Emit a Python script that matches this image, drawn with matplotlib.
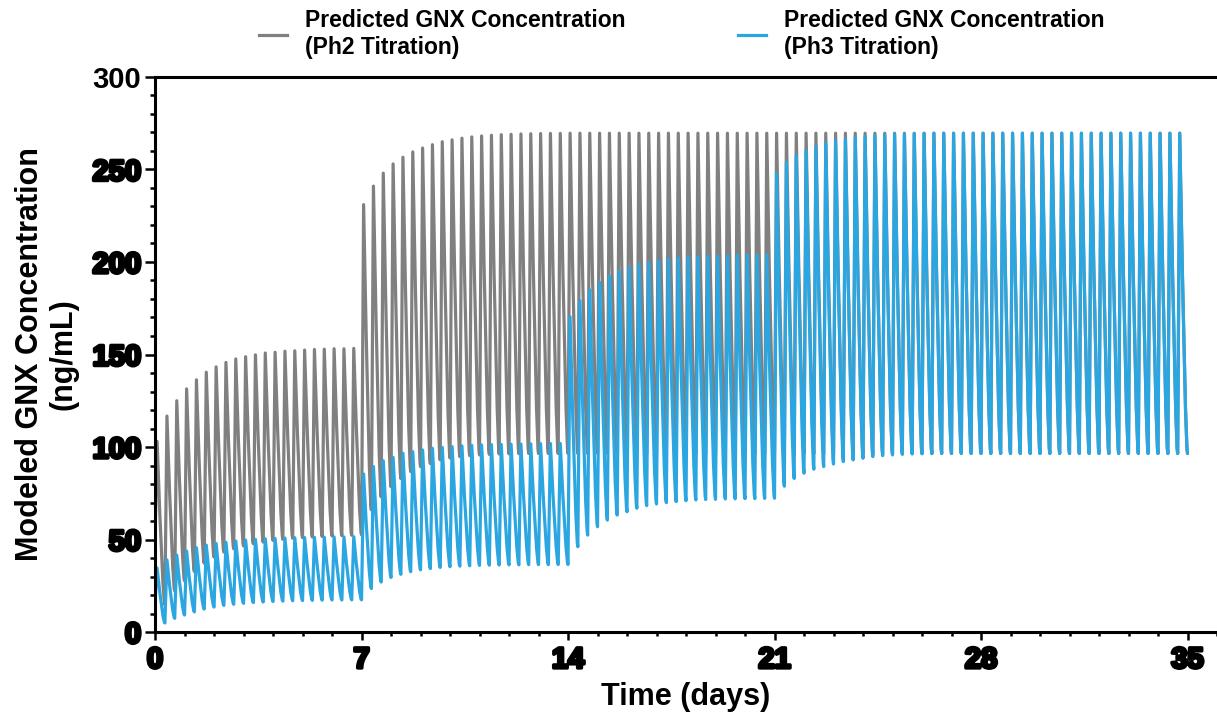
import numpy as np
import matplotlib
matplotlib.use('Agg')
import matplotlib.pyplot as plt
import matplotlib.patheffects as pe
from matplotlib.path import Path
from matplotlib.patches import PathPatch
from matplotlib.lines import Line2D
from matplotlib.ticker import MultipleLocator

plt.rcParams['font.family'] = ['Liberation Sans', 'DejaVu Sans']
plt.rcParams['font.weight'] = 'bold'

# dosing: three doses a day (every 8 h) for 35 days
doses_per_day = 3
t_peak = 0.07  # days from dose to peak

# Ph2 titration (grey) - peak / trough of each dosing interval, one row per week
ph2_start = 52.0
ph2_peaks = [
    [103, 116.7, 125, 131.4, 136.3, 140.4, 143.3, 145.7, 147.6, 148.8, 149.8,
     150.8, 151.2, 151.8, 152, 152.4, 152.7, 152.9, 153.1, 153.1, 153.3],
    [231, 241, 248, 253, 256.6, 259.5, 261.6, 263.4, 265, 266, 266.9,
     267.6, 268.1, 268.5, 268.8, 269, 269.2, 269.3, 269.4, 269.5, 269.5],
    [269.6, 269.6, 269.6, 269.6, 269.6, 269.6, 269.6, 269.6, 269.6, 269.6, 269.6,
     269.6, 269.6, 269.6, 269.6, 269.6, 269.6, 269.6, 269.6, 269.6, 269.6],
    [269.6, 269.6, 269.6, 269.6, 269.6, 269.6, 269.6, 269.6, 269.6, 269.6, 269.6,
     269.6, 269.6, 269.6, 269.6, 269.6, 269.6, 269.6, 269.6, 269.6, 269.6],
    [269.6, 269.6, 269.6, 269.6, 269.6, 269.6, 269.6, 269.6, 269.6, 269.6, 269.6,
     269.6, 269.6, 269.6, 269.6, 269.6, 269.6, 269.6, 269.6, 269.6, 269.6],
]
ph2_troughs = [
    [14.7, 22.2, 27.6, 32.7, 37.2, 40.5, 43.2, 45, 46.5, 47.7, 48.6,
     49.5, 50.1, 50.7, 51, 51.3, 51.6, 51.9, 52.1, 52.3, 52.5],
    [66, 73, 78.5, 83, 86.7, 89.4, 91, 93, 94, 94.8, 95.3,
     95.7, 96, 96.2, 96.3, 96.4, 96.5, 96.5, 96.5, 96.5, 96.5],
    [96.5, 96.5, 96.5, 96.5, 96.5, 96.5, 96.5, 96.5, 96.5, 96.5, 96.5,
     96.5, 96.5, 96.5, 96.5, 96.5, 96.5, 96.5, 96.5, 96.5, 96.5],
    [96.5, 96.5, 96.5, 96.5, 96.5, 96.5, 96.5, 96.5, 96.5, 96.5, 96.5,
     96.5, 96.5, 96.5, 96.5, 96.5, 96.5, 96.5, 96.5, 96.5, 96.5],
    [96.5, 96.5, 96.5, 96.5, 96.5, 96.5, 96.5, 96.5, 96.5, 96.5, 96.5,
     96.5, 96.5, 96.5, 96.5, 96.5, 96.5, 96.5, 96.5, 96.5, 96.5],
]

# Ph3 titration (blue)
ph3_start = 17.3
ph3_peaks = [
    [34.6, 39, 41.6, 43.8, 45.6, 47, 47.9, 48.5, 49.2, 49.7, 50.1,
     50.4, 50.6, 50.8, 51, 51.1, 51.2, 51.3, 51.4, 51.4, 51.5],
    [85.4, 89.4, 92.6, 94.4, 96.6, 97.5, 98.4, 99.3, 99.8, 100.2, 100.6,
     100.9, 101.1, 101.3, 101.4, 101.5, 101.6, 101.7, 101.8, 101.9, 101.9],
    [170.4, 179.1, 184.9, 189, 192.4, 195.1, 197.1, 198.7, 199.8, 200.7, 201.5,
     202, 202.6, 202.9, 203.1, 203.2, 203.4, 203.6, 203.7, 203.8, 203.9],
    [247.9, 253.7, 257.5, 260.2, 262.3, 264.2, 265.4, 266.3, 267.2, 267.9, 268.3,
     268.6, 268.9, 269.1, 269.4, 269.5, 269.6, 269.6, 269.6, 269.6, 269.6],
    [269.6, 269.6, 269.6, 269.6, 269.6, 269.6, 269.6, 269.6, 269.6, 269.6, 269.6,
     269.6, 269.6, 269.6, 269.6, 269.6, 269.6, 269.6, 269.6, 269.6, 269.6],
]
ph3_troughs = [
    [4.9, 7.4, 9.2, 10.9, 12.4, 13.5, 14.4, 15.0, 15.5, 15.9, 16.2,
     16.5, 16.7, 16.9, 17.0, 17.1, 17.2, 17.3, 17.3, 17.4, 17.4],
    [23.5, 27, 29.5, 31.2, 32.6, 33.6, 34.3, 34.9, 35.3, 35.6, 35.8,
     36, 36.1, 36.2, 36.3, 36.3, 36.4, 36.4, 36.4, 36.5, 36.5],
    [46.1, 52.4, 56.9, 60.5, 63.2, 65, 66.9, 68.3, 69.2, 69.9, 70.5,
     71, 71.4, 71.6, 71.7, 71.9, 72, 72.1, 72.1, 72.2, 72.3],
    [78.8, 83, 85.8, 88, 89.4, 90.8, 92.1, 93, 93.9, 94.8, 95.3,
     95.7, 96, 96.2, 96.3, 96.4, 96.5, 96.5, 96.5, 96.5, 96.5],
    [96.5, 96.5, 96.5, 96.5, 96.5, 96.5, 96.5, 96.5, 96.5, 96.5, 96.5,
     96.5, 96.5, 96.5, 96.5, 96.5, 96.5, 96.5, 96.5, 96.5, 96.5],
]

x_ticks = [0, 7, 14, 21, 28, 35]
y_ticks = [0, 50, 100, 150, 200, 250, 300]
labels = ['Predicted GNX Concentration\n(Ph2 Titration)',
          'Predicted GNX Concentration\n(Ph3 Titration)']
colors = ['#808080', '#2ba6e1']


def profile_path(start, peaks, troughs):
    # fast rise to each peak, then a curved (bezier) decay to the trough
    peaks = np.concatenate(peaks)
    troughs = np.concatenate(troughs)
    tau = 1 / doses_per_day
    verts = [(0.0, start)]
    codes = [Path.MOVETO]
    for i, (p, tr) in enumerate(zip(peaks, troughs)):
        d = i * tau
        tp = d + t_peak
        verts += [(tp, p), (tp + 0.75 * (tau - t_peak), tr), (d + tau, tr)]
        codes += [Path.LINETO, Path.CURVE3, Path.CURVE3]
    return Path(verts, codes)


fig = plt.figure(figsize=(12.17, 7.14), dpi=100)
ax = fig.add_axes([0.1274, 0.1148, 0.8726, 0.7774])

for peaks, troughs, start, col in [(ph2_peaks, ph2_troughs, ph2_start, colors[0]),
                                   (ph3_peaks, ph3_troughs, ph3_start, colors[1])]:
    ax.add_patch(PathPatch(profile_path(start, peaks, troughs), facecolor='none',
                           edgecolor=col, lw=2.3, joinstyle='round',
                           capstyle='round'))

ax.set_xlim(0, 36)
ax.set_ylim(0, 300)
ax.set_xticks(x_ticks)
ax.set_xticklabels([str(v) for v in x_ticks])
ax.set_yticks(y_ticks)
ax.set_yticklabels([str(v) for v in y_ticks])
ax.xaxis.set_minor_locator(MultipleLocator(1))
ax.yaxis.set_minor_locator(MultipleLocator(10))

ax.spines['right'].set_visible(False)
for s in ['left', 'bottom', 'top']:
    ax.spines[s].set_linewidth(2.2)

ax.tick_params(axis='y', which='major', length=7, width=1.8, pad=3, labelsize=21)
ax.tick_params(axis='y', which='minor', length=3.5, width=1.8)
ax.tick_params(axis='x', which='major', length=6, width=1.8, pad=4, labelsize=21)
ax.tick_params(axis='x', which='minor', length=3, width=1.8)

smear = [pe.withStroke(linewidth=2.5, foreground='black')]
for lbl in ax.get_xticklabels() + ax.get_yticklabels():
    lbl.set_fontweight('bold')
    if lbl.get_text() != '300':
        lbl.set_path_effects(smear)

ax.set_xlabel('Time (days)', fontsize=22, fontweight='bold')
ax.set_ylabel('Modeled GNX Concentration\n(ng/mL)', fontsize=22,
              fontweight='bold', linespacing=1.15)
ax.xaxis.set_label_coords(0.5, -0.09)
ax.yaxis.set_label_coords(-0.0725, 0.5)

handles = [Line2D([], [], color=c, lw=2.3) for c in colors]
fig.legend(handles=handles, labels=labels, loc='center',
           bbox_to_anchor=(0.5600, 0.952), ncol=2, frameon=False,
           prop={'size': 16.5, 'weight': 'bold'},
           handlelength=1.22, handletextpad=0.8, columnspacing=4.9)

fig.savefig('out.png', dpi=100)
